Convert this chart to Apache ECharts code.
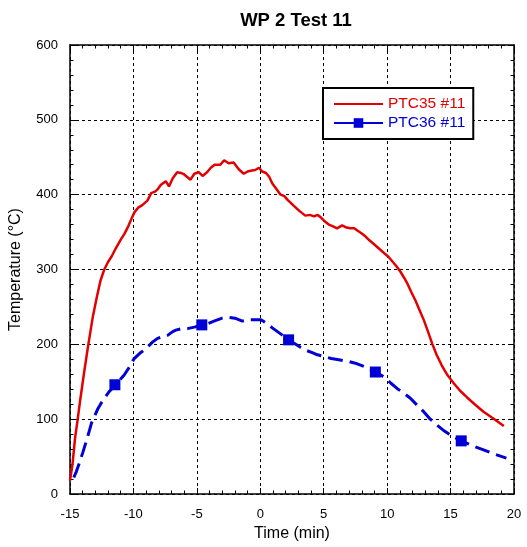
<!DOCTYPE html>
<html>
<head>
<meta charset="utf-8">
<script src="https://cdn.jsdelivr.net/npm/echarts@6/dist/echarts.min.js"></script>
<style>html,body{margin:0;padding:0;background:#fff}#c{width:527px;height:547px}</style>
</head>
<body>
<div id="c"></div>
<script>
const titleText = 'WP 2 Test 11';
const xTitle = 'Time (min)';
const yTitle = 'Temperature (°C)';
const seriesNames = ['PTC35 #11', 'PTC36 #11'];

const redTime = [-15.0,-14.8,-14.6,-14.4,-14.2,-13.9,-13.6,-13.2,-12.9,-12.6,-12.3,-12.0,-11.7,-11.4,-11.0,-10.7,-10.4,-10.1,-9.9,-9.6,-9.3,-8.9,-8.6,-8.3,-8.1,-7.85,-7.45,-7.2,-6.9,-6.55,-6.25,-6.0,-5.5,-5.2,-4.85,-4.55,-4.2,-3.9,-3.6,-3.15,-2.85,-2.5,-2.1,-1.7,-1.3,-1.0,-0.75,-0.4,-0.1,0.15,0.45,0.7,0.95,1.3,1.6,1.9,2.15,2.65,3.1,3.55,3.9,4.25,4.5,4.75,5.1,5.4,5.7,6.05,6.45,6.8,7.1,7.4,7.65,8.0,8.3,8.6,8.95,9.35,9.75,10.1,10.4,10.75,11.05,11.3,11.6,11.9,12.25,12.55,12.9,13.2,13.55,13.9,14.3,14.75,15.25,15.75,16.3,16.9,17.6,18.2,18.7,19.2];
const redTemp = [18,40,75,99,125,161,195,237,262,285,300,310,318,328,340,348,358,370,377,383,386,392,402,404,407,413,418,411,422,430,429,427,420,428,430,425,430,436,440,440,446,442,443,434,428,431,432,433,436,431,429,424,415,407,400,398,393,385,378,372,373,371,373,370,364,360,358,355,359,356,355,355,352,348,344,339,334,328,322,317,311,304,297,290,281,270,258,246,232,218,201,186,172,159,148,138,129,120,110,103,97,91];

const blueTime = [-14.7,-14.5,-14.27,-14.0,-13.6,-13.3,-13.09,-12.8,-12.56,-12.2,-11.9,-11.5,-11.1,-10.73,-10.3,-9.94,-9.5,-9.02,-8.5,-8.1,-7.7,-7.31,-6.9,-6.66,-6.2,-5.74,-5.2,-4.56,-4.1,-3.65,-3.0,-2.47,-2.0,-1.41,-0.9,-0.3,0.05,0.5,0.95,1.6,2.25,2.7,3.17,3.6,4.1,4.5,5.0,5.6,6.3,7.0,7.64,8.4,9.08,9.5,9.86,10.3,10.78,11.3,11.83,12.4,12.88,13.4,13.93,14.45,14.97,15.5,16.0,16.8,17.6,18.5,19.4];
const blueTemp = [22,30,41,55,77,95,103,114,121,130,137,144,152,159,170,181,188,194,203,208,210,212,217,219,221,221,223,225,228,231,235,236,235,231,233,233,233,228,222,214,206,201,196,192,189,186,184,181,179,177,174,169,164,159,155,148,141,135,128,118,110,100,92,85,79,74,70,64,59,53,48];

const markerTime = [-11.46,-4.61,2.23,9.07,15.84];
const markerTemp = [146,226,206,163,71];

const xTicks = {min:-15, max:20, interval:5};
const yTicks = {min:0, max:600, interval:100};

const RED = '#e30000', BLUE = '#0000d6';

const redData = redTime.map((t,i)=>[t, redTemp[i]]);
const blueData = blueTime.map((t,i)=>({value:[t, blueTemp[i]], symbol:'none'}));
markerTime.forEach((t,i)=>blueData.push({value:[t, markerTemp[i]], symbol:'rect'}));
blueData.sort((a,b)=>a.value[0]-b.value[0]);

const font = 'Liberation Sans, Arial, sans-serif';
function axisCommon(show){
  return {
    axisLine:{show:true, onZero:false, lineStyle:{color:'#000', width:1.5}},
    axisTick:{show:true, inside:true, length:6, lineStyle:{color:'#000', width:1}},
    minorTick:{show:true, splitNumber:5, length:3.5, lineStyle:{color:'#000', width:1}},
    axisLabel:{show:show, color:'#000', fontFamily:font, fontSize:13, margin:14},
  };
}

const chart = echarts.init(document.getElementById('c'), null, {renderer:'canvas'});
chart.setOption({
  animation:false,
  backgroundColor:'#fff',
  title:{text:titleText, left:291, textAlign:'center', top:6, textStyle:{fontFamily:font, fontSize:18.5, fontWeight:'bold', color:'#000'}},
  grid:{left:69, right:13, top:45, bottom:53},
  legend:{
    orient:'vertical', left:323, top:88, align:'left',
    padding:[7.5,8,7.5,10], itemGap:2, itemWidth:49, itemHeight:12,
    borderColor:'#000', borderWidth:2, backgroundColor:'#fff',
    textStyle:{fontFamily:font, fontSize:15.5, lineHeight:17},
    data:[
      {name:seriesNames[0], textStyle:{color:RED}, itemStyle:{color:'rgba(0,0,0,0)', borderWidth:0, opacity:0}},
      {name:seriesNames[1], textStyle:{color:BLUE}, lineStyle:{type:'solid'}}
    ]
  },
  xAxis:[
    Object.assign({type:'value', position:'bottom', min:xTicks.min, max:xTicks.max, interval:xTicks.interval,
      name:xTitle, nameLocation:'middle', nameGap:17, nameTextStyle:{fontFamily:font, fontSize:16, color:'#000'},
      splitLine:{show:true, lineStyle:{color:'#000', type:[3,3], width:1}}}, axisCommon(true)),
    Object.assign({type:'value', position:'top', min:xTicks.min, max:xTicks.max, interval:xTicks.interval,
      splitLine:{show:false}}, axisCommon(false))
  ],
  yAxis:[
    Object.assign({type:'value', position:'left', min:yTicks.min, max:yTicks.max, interval:yTicks.interval,
      name:yTitle, nameLocation:'middle', nameGap:46, nameTextStyle:{fontFamily:font, fontSize:16, color:'#000'},
      splitLine:{show:true, lineStyle:{color:'#000', type:[3,3], width:1}}}, axisCommon(true),
      {axisLabel:{show:true, color:'#000', fontFamily:font, fontSize:13, margin:12}}),
    Object.assign({type:'value', position:'right', min:yTicks.min, max:yTicks.max, interval:yTicks.interval,
      splitLine:{show:false}}, axisCommon(false))
  ],
  series:[
    {name:seriesNames[0], type:'line', data:redData, symbol:'none', showSymbol:false,
      lineStyle:{color:RED, width:2.5}, itemStyle:{color:RED}, z:3},
    {name:seriesNames[1], type:'line', data:blueData, symbol:'rect', symbolSize:11, showSymbol:true,
      lineStyle:{color:BLUE, width:3, type:[15,7]}, itemStyle:{color:BLUE}, z:4}
  ]
});
</script>
</body>
</html>
